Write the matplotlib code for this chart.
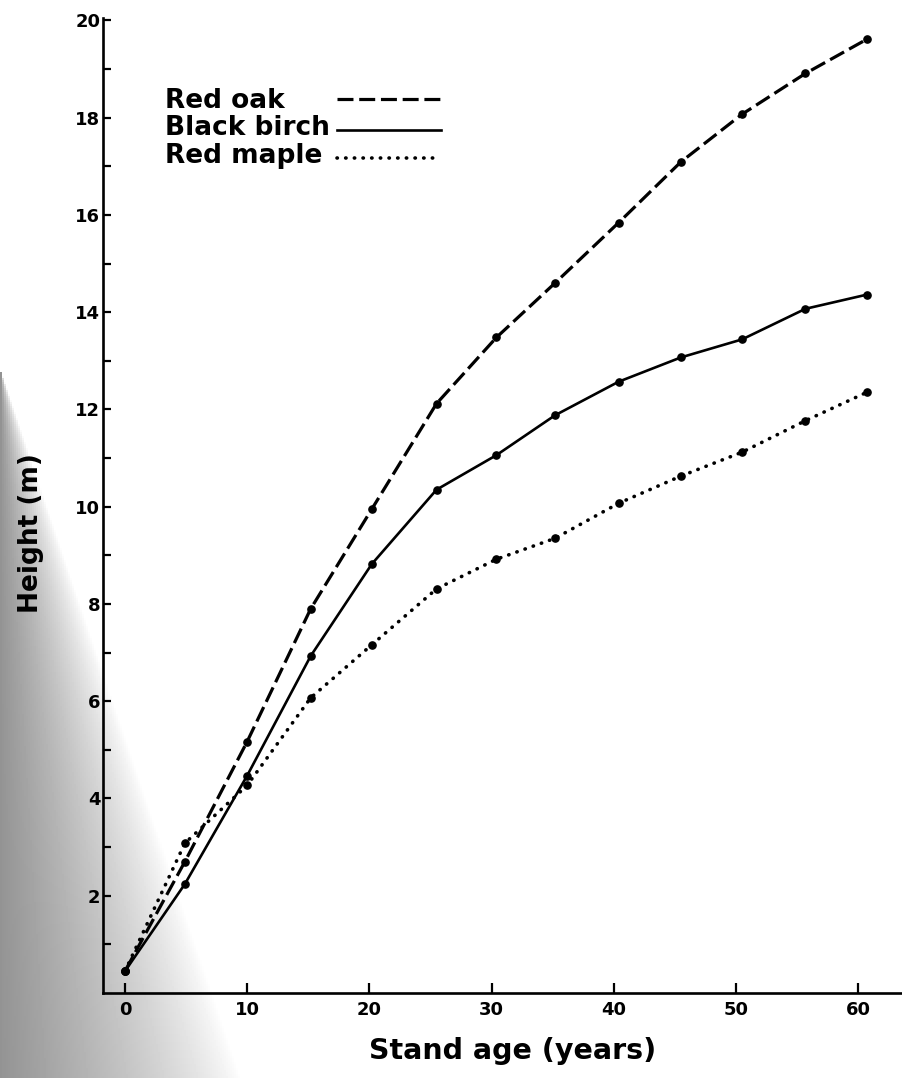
import matplotlib
matplotlib.use("Agg")
import matplotlib.pyplot as plt
import numpy as np

# stand age (years)
ages = [0, 4.9, 10, 15.2, 20.2, 25.5, 30.4, 35.2, 40.4, 45.5, 50.5, 55.7, 60.7]

red_oak = [0.45, 2.7, 5.17, 7.9, 9.95, 12.12, 13.48, 14.6, 15.84, 17.09, 18.07, 18.91, 19.61]
black_birch = [0.45, 2.24, 4.47, 6.93, 8.82, 10.35, 11.06, 11.88, 12.57, 13.07, 13.44, 14.07, 14.36]
red_maple = [0.45, 3.08, 4.27, 6.07, 7.16, 8.31, 8.92, 9.35, 10.07, 10.63, 11.12, 11.77, 12.35]

species = ["Red oak", "Black birch", "Red maple"]
heights = [red_oak, black_birch, red_maple]

x_ticks = [0, 10, 20, 30, 40, 50, 60]
y_ticks = [2, 4, 6, 8, 10, 12, 14, 16, 18, 20]

W, H = 902, 1078
fig = plt.figure(figsize=(W / 100, H / 100), dpi=100)

# grey scan shadow along the left edge
bg = fig.add_axes([0, 0, 1, 1], zorder=0)
yy, xx = np.mgrid[0:H:2, 0:W:2]
reach = np.clip((yy - 370) * 0.34, 0, None)
t = np.where(reach > 0, np.clip(1 - xx / np.maximum(reach, 1), 0, 1), 0)
shade = 1 - 0.42 * t ** 0.8
bg.imshow(shade, cmap="gray", vmin=0, vmax=1, extent=[0, W, H, 0], aspect="auto")
bg.set_xlim(0, W)
bg.set_ylim(H, 0)
bg.axis("off")

ax = fig.add_axes([103 / W, 85 / H, 799 / W, 975 / H], zorder=1)
ax.patch.set_alpha(0)

styles = [
    dict(linestyle=(0, (5, 1.8)), linewidth=2.3, dash_capstyle="butt"),
    dict(linestyle="-", linewidth=1.9),
    dict(linestyle=(0, (0.1, 2.3)), linewidth=2.6, dash_capstyle="round"),
]

for h, st in zip(heights, styles):
    ax.plot(ages, h, color="black", marker="o", markersize=5.2,
            markerfacecolor="black", markeredgecolor="black", **st)

ax.set_xlim(-1.8, 63.6)
ax.set_ylim(0, 20.05)

for side in ["top", "right"]:
    ax.spines[side].set_visible(False)
for side in ["left", "bottom"]:
    ax.spines[side].set_linewidth(1.9)

ax.set_xticks(x_ticks)
ax.set_xticklabels([str(v) for v in x_ticks], fontsize=13, fontweight="bold")
ax.set_yticks(y_ticks)
ax.set_yticklabels([str(v) for v in y_ticks], fontsize=13, fontweight="bold")
ax.set_yticks(np.arange(1, 20, 2), minor=True)
ax.tick_params(axis="x", direction="in", length=7, width=1.6, pad=6)
ax.tick_params(axis="y", which="both", direction="in", length=6, width=1.6, pad=2)

ax.set_xlabel("Stand age (years)", fontsize=20.5, fontweight="bold")
ax.xaxis.set_label_coords(0.513, -0.045)
ax.set_ylabel("Height (m)", fontsize=19, fontweight="bold")
ax.yaxis.set_label_coords(-0.074, 0.472)

# hand-drawn style key: names left aligned, line samples in one column
text_y = [0.9077, 0.880, 0.851]
line_y = [0.917, 0.885, 0.856]
for name, st, ty, ly in zip(species, styles, text_y, line_y):
    ax.text(0.0776, ty, name, transform=ax.transAxes, fontsize=19,
            fontweight="bold", va="baseline", ha="left")
    ax.plot([0.293, 0.423], [ly, ly], transform=ax.transAxes, color="black",
            clip_on=False, **st)

fig.savefig("out.png", dpi=100)
